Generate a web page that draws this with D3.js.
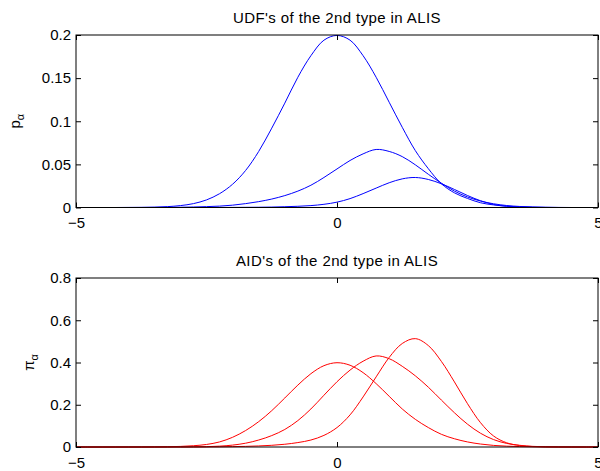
<!DOCTYPE html>
<html>
<head>
<meta charset="utf-8">
<script src="https://cdn.jsdelivr.net/npm/d3@7"></script>
<style>
  body { margin: 0; background: #fff; }
  svg { display: block; font-family: "Liberation Sans", Arial, Helvetica, sans-serif; }
</style>
</head>
<body>
<svg id="fig" width="600" height="471"></svg>
<script>
// sample points along alpha
var xs = [-5,-4.75,-4.5,-4.25,-4,-3.75,-3.5,-3.25,-3,-2.75,-2.5,-2.25,-2,-1.75,-1.5,-1.25,-1,-0.75,-0.5,-0.25,
          0,0.25,0.5,0.75,1,1.25,1.5,1.75,2,2.25,2.5,2.75,3,3.25,3.5,3.75,4,4.25,4.5,4.75,5];

// UDF's (top panel, blue)
var udf1 = [0,0,0,0,0.0001,0.0002,0.0004,0.001,0.0022,0.0045,0.0088,0.016,0.027,0.043,0.065,0.092,0.121,0.151,0.176,0.194,
            0.1995,0.194,0.176,0.151,0.122,0.093,0.066,0.045,0.0275,0.017,0.0105,0.0055,0.003,0.0015,0.0007,0.0003,0.0001,0,0,0,0];
var udf2 = [0,0,0,0,0,0,0.0001,0.0002,0.0003,0.0006,0.001,0.0016,0.0027,0.0045,0.0068,0.0098,0.0138,0.019,0.0258,0.0348,
            0.0447,0.0545,0.0622,0.0673,0.065,0.059,0.0495,0.0385,0.0282,0.019,0.0122,0.0075,0.0043,0.0023,0.0012,0.0006,0.0003,0.0001,0,0,0];
var udf3 = [0,0,0,0,0,0,0,0,0,0,0,0.0001,0.0001,0.0002,0.0003,0.0005,0.0009,0.0014,0.0022,0.0037,
            0.0062,0.0103,0.0161,0.0225,0.0287,0.0332,0.0348,0.0325,0.0275,0.0209,0.0139,0.0078,0.0035,0.0014,0.0005,0.0001,0,0,0,0,0];

// AID's (bottom panel, red)
var aid1 = [0,0,0,0,0.0001,0.0002,0.0005,0.0012,0.0028,0.006,0.012,0.024,0.046,0.078,0.12,0.172,0.232,0.293,0.347,0.385,
            0.399,0.387,0.352,0.3,0.24,0.18,0.131,0.092,0.06,0.039,0.024,0.014,0.0075,0.004,0.002,0.001,0.0005,0.0002,0.0001,0,0];
var aid2 = [0,0,0,0,0,0,0.0001,0.0002,0.0003,0.0007,0.0015,0.004,0.009,0.018,0.033,0.054,0.083,0.125,0.18,0.245,
            0.309,0.364,0.406,0.431,0.418,0.382,0.337,0.283,0.222,0.162,0.108,0.065,0.035,0.017,0.008,0.003,0.001,0.0004,0.0001,0,0];
var aid3 = [0,0,0,0,0,0,0,0,0,0.0003,0.0006,0.001,0.0018,0.003,0.005,0.008,0.013,0.021,0.033,0.055,
            0.092,0.152,0.237,0.332,0.424,0.49,0.513,0.48,0.405,0.308,0.205,0.115,0.052,0.02,0.007,0.002,0.0005,0.0001,0,0,0];

// ticks
var xTicks = [-5, 0, 5];
var xTickLabels = ["\u22125", "0", "5"];
var yTicksTop = [0, 0.05, 0.1, 0.15, 0.2];
var yTickLabelsTop = ["0", "0.05", "0.1", "0.15", "0.2"];
var yTicksBot = [0, 0.2, 0.4, 0.6, 0.8];
var yTickLabelsBot = ["0", "0.2", "0.4", "0.6", "0.8"];

var svg = d3.select("#fig");
var left = 76, right = 598;

function panel(cfg) {
  var x = d3.scaleLinear().domain([-5, 5]).range([left, right]);
  var y = d3.scaleLinear().domain(cfg.ydom).range([cfg.bottom, cfg.top]);
  var g = svg.append("g");

  // curves
  var line = d3.line()
    .x(function(d) { return x(d[0]); })
    .y(function(d) { return y(d[1]); })
    .curve(d3.curveCatmullRom.alpha(0.5));
  cfg.series.forEach(function(s) {
    g.append("path")
      .datum(xs.map(function(v, i) { return [v, s[i]]; }))
      .attr("fill", "none")
      .attr("stroke", cfg.color)
      .attr("stroke-width", 1)
      .attr("d", line);
  });

  // axes with inward ticks
  var fmtX = function(d) { return xTickLabels[xTicks.indexOf(d)]; };
  var fmtY = function(d) { return cfg.ylabels[cfg.yticks.indexOf(d)]; };

  g.append("g").attr("transform", "translate(0," + cfg.bottom + ")")
    .call(d3.axisBottom(x).tickValues(xTicks).tickFormat(fmtX).tickSizeInner(-5).tickSizeOuter(0).tickPadding(10));
  g.append("g").attr("transform", "translate(0," + cfg.top + ")")
    .call(d3.axisTop(x).tickValues(xTicks).tickFormat("").tickSizeInner(-5).tickSizeOuter(0));
  g.append("g").attr("transform", "translate(" + left + ",0)")
    .call(d3.axisLeft(y).tickValues(cfg.yticks).tickFormat(fmtY).tickSizeInner(-5).tickSizeOuter(0).tickPadding(5));
  g.append("g").attr("transform", "translate(" + right + ",0)")
    .call(d3.axisRight(y).tickValues(cfg.yticks).tickFormat("").tickSizeInner(-5).tickSizeOuter(0));

  g.selectAll(".domain").remove();
  g.selectAll(".tick line").attr("stroke", "#000");
  g.selectAll(".tick text").attr("fill", "#000").style("font-size", "15px")
    .style("font-family", "'Liberation Sans', Arial, Helvetica, sans-serif");

  // box
  g.append("rect")
    .attr("x", left).attr("y", cfg.top)
    .attr("width", right - left).attr("height", cfg.bottom - cfg.top)
    .attr("fill", "none").attr("stroke", "#000").attr("stroke-width", 1);

  // title
  g.append("text")
    .attr("x", (left + right) / 2).attr("y", cfg.titleY)
    .attr("text-anchor", "middle")
    .style("font-size", "15px")
    .style("letter-spacing", "0.4px")
    .text(cfg.title);

  // y label
  var lab = g.append("text")
    .attr("transform", "translate(" + cfg.labelX + "," + ((cfg.top + cfg.bottom) / 2) + ") rotate(-90)")
    .attr("text-anchor", "middle")
    .style("font-size", "15px");
  lab.append("tspan").text(cfg.ylab);
  lab.append("tspan").attr("dy", 4).style("font-size", "11px").text("\u03b1");
}

panel({
  top: 35, bottom: 207.5, ydom: [0, 0.2],
  yticks: yTicksTop, ylabels: yTickLabelsTop,
  series: [udf1, udf2, udf3], color: "#0000ff",
  title: "UDF's of the 2nd type in ALIS", titleY: 23, ylab: "p", labelX: 20
});

panel({
  top: 278, bottom: 447, ydom: [0, 0.8],
  yticks: yTicksBot, ylabels: yTickLabelsBot,
  series: [aid1, aid2, aid3], color: "#ff0000",
  title: "AID's of the 2nd type in ALIS", titleY: 266, ylab: "\u03c0", labelX: 34
});
</script>
</body>
</html>
